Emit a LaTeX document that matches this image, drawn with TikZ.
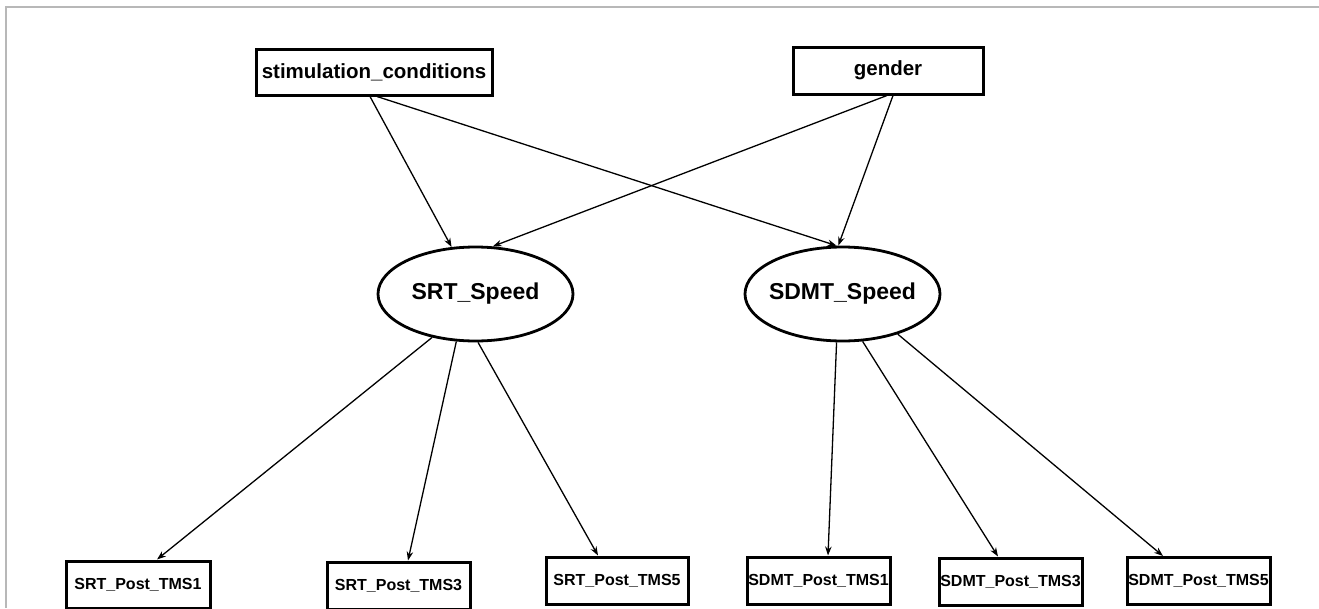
\documentclass[tikz,border=0pt]{standalone}
\usepackage{fontspec}
\setmainfont{Liberation Sans}
\usetikzlibrary{shapes.geometric,arrows.meta}
\tikzset{
  topbox/.style={draw=black, line width=3pt, inner sep=0pt, font=\fontsize{20.5}{24}\selectfont\bfseries},
  latent/.style={draw=black, line width=2.8pt, ellipse, inner sep=0pt, minimum width=195pt, minimum height=94pt},
  latentlbl/.style={inner sep=0pt, font=\fontsize{23}{27}\selectfont\bfseries},
  obsbox/.style={draw=black, line width=3pt, inner sep=0pt, minimum height=47pt, font=\fontsize{16}{19}\selectfont\bfseries},
  edge/.style={draw=black, line width=1.3pt, -{Stealth[length=9pt,width=6.5pt]}},
  frame/.style={draw=black!28, line width=1.6pt}
}
\begin{document}
\begin{tikzpicture}[x=1pt,y=-1pt]
\useasboundingbox (0,0) rectangle (1319,608);
\fill[white] (0,0) rectangle (1319,608);
\draw[frame] (6,608) -- (6,7) -- (1319,7);

% top observed
\node[topbox, minimum width=236pt, minimum height=46pt] (stim) at (374,72) {stimulation\_conditions};
\node[topbox, minimum width=190pt, minimum height=47pt] (gender) at (888,70.5) {gender};

% latent
\node[latent] (srt) at (475.5,294) {};
\node[latentlbl] (srtlbl) at (srt.center) {SRT\_Speed};
\node[latent] (sdmt) at (842.5,294) {};
\node[latentlbl] (sdmtlbl) at (sdmt.center) {SDMT\_Speed};

% bottom observed
\node[obsbox, minimum width=144pt] (tms1) at (138,584.5) {SRT\_Post\_TMS1};
\node[obsbox, minimum width=143pt] (tms3) at (398.5,585.5) {SRT\_Post\_TMS3};
\node[obsbox, minimum width=142pt] (tms5) at (617,580.5) {SRT\_Post\_TMS5};
\node[obsbox, minimum width=143pt] (sdmt1) at (818.5,580.5) {SDMT\_Post\_TMS1};
\node[obsbox, minimum width=143pt] (sdmt3) at (1010.5,581.5) {SDMT\_Post\_TMS3};
\node[obsbox, minimum width=143pt] (sdmt5) at (1198.5,581) {SDMT\_Post\_TMS5};

% edges from top
\draw[edge] ([xshift=-4pt]stim.south) -- (srt.117.3);
\draw[edge] ([xshift=3pt]stim.south) -- (sdmt.97.9);
\draw[edge] ([xshift=-1pt]gender.south) -- (srt.70.4);
\draw[edge] ([xshift=5pt]gender.south) -- (sdmt.95.5);

% edges to indicators
\draw[edge] (srt.225.3) -- ([xshift=19pt]tms1.north);
\draw[edge] (srt.248.1) -- ([xshift=9.5pt]tms3.north);
\draw[edge] (srt.273.7) -- ([xshift=-19pt]tms5.north);
\draw[edge] (sdmt.263.3) -- ([xshift=9.5pt]sdmt1.north);
\draw[edge] (sdmt.293) -- ([xshift=-12.5pt]sdmt3.north);
\draw[edge] (sdmt.324.4) -- ([xshift=-35.5pt]sdmt5.north);
\end{tikzpicture}
\end{document}
